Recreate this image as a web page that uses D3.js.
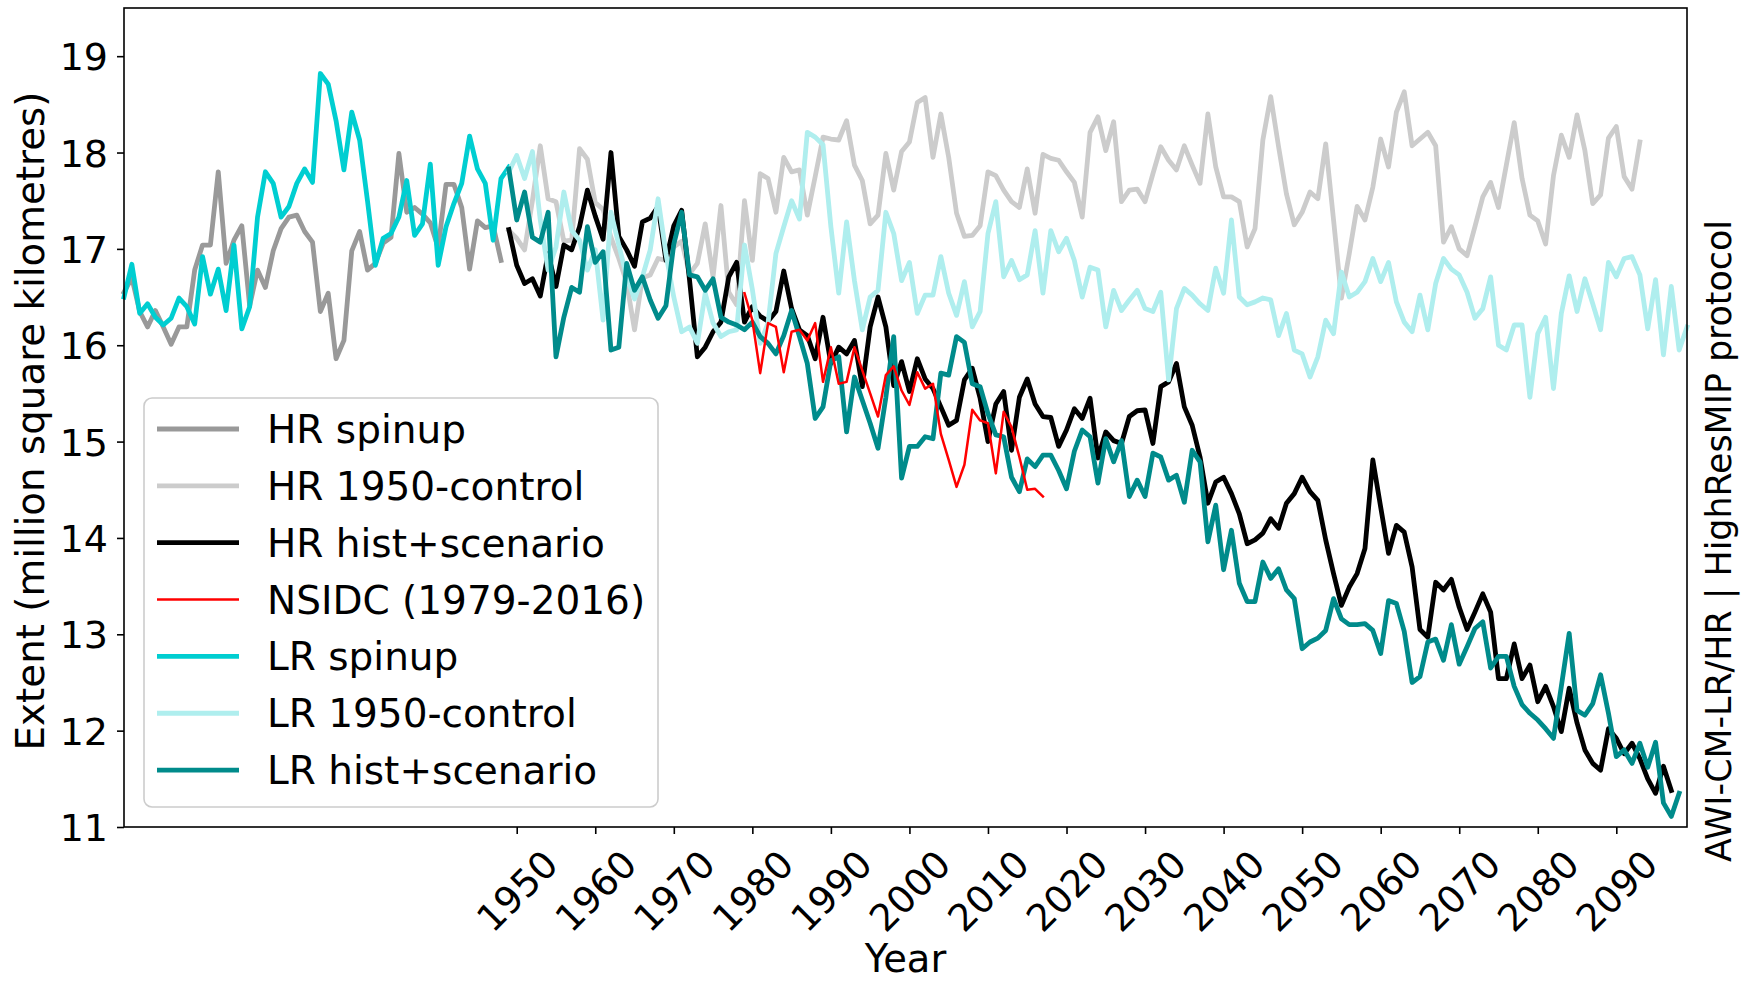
<!DOCTYPE html>
<html lang="en">
<head>
<meta charset="utf-8">
<title>Sea ice extent</title>
<style>
  body { margin: 0; background: #fff; }
  svg text { font-family: "DejaVu Sans", sans-serif; fill: #000; }
  .line { fill: none; stroke-linejoin: round; stroke-linecap: square; }
  .axis path { display: none; }
  .axis line { stroke: #000; stroke-width: 1.6px; }
</style>
</head>
<body>
<svg id="chart" width="1748" height="982"></svg>
<script src="https://cdn.jsdelivr.net/npm/d3@7"></script>
<script>

// first year of each run
var spinupStart = 1900,
    runStart = 1949,
    nsidcStart = 1979;

var hrSpinup = [16.55, 16.70, 16.35, 16.19, 16.36, 16.19, 16.01, 16.19, 16.19, 16.78,
  17.04, 17.04, 17.80, 16.85, 17.09, 17.24, 16.41, 16.78, 16.60, 16.98,
  17.21, 17.33, 17.35, 17.18, 17.07, 16.35, 16.54, 15.86, 16.05, 16.98,
  17.18, 16.78, 16.85, 17.06, 17.12, 17.99, 17.38, 17.43, 17.36, 17.27,
  17.01, 17.67, 17.67, 17.43, 16.79, 17.29, 17.22, 17.24, 16.88];

var lrSpinup = [16.50, 16.84, 16.33, 16.43, 16.29, 16.21, 16.28, 16.49, 16.40, 16.22,
  16.92, 16.53, 16.79, 16.36, 17.04, 16.17, 16.40, 17.33, 17.80, 17.68,
  17.33, 17.44, 17.68, 17.83, 17.69, 18.82, 18.71, 18.33, 17.82, 18.42,
  18.13, 17.50, 16.83, 17.11, 17.16, 17.33, 17.71, 17.14, 17.26, 17.88,
  16.83, 17.23, 17.47, 17.68, 18.17, 17.83, 17.68, 17.09, 17.73, 17.85];

var hrControl = [17.19, 17.11, 16.99, 17.50, 18.07, 17.52, 17.49, 17.08, 17.09, 18.04,
  17.93, 17.48, 17.41, 17.12, 16.90, 16.65, 16.16, 16.70, 16.73, 16.90,
  16.88, 17.02, 17.08, 16.74, 16.85, 17.26, 16.71, 17.45, 16.55, 16.42,
  17.50, 16.88, 17.78, 17.73, 17.38, 17.95, 17.80, 17.82, 17.35, 17.75,
  18.16, 18.14, 18.13, 18.33, 17.87, 17.71, 17.26, 17.35, 17.99, 17.61,
  18.01, 18.11, 18.52, 18.57, 17.95, 18.40, 17.95, 17.37, 17.13, 17.14,
  17.24, 17.80, 17.76, 17.61, 17.49, 17.43, 17.83, 17.37, 17.98, 17.94,
  17.92, 17.80, 17.69, 17.33, 18.21, 18.37, 18.02, 18.32, 17.49, 17.61,
  17.62, 17.49, 17.78, 18.06, 17.92, 17.82, 18.07, 17.87, 17.68, 18.40,
  17.85, 17.54, 17.54, 17.49, 17.02, 17.21, 18.13, 18.58, 18.06, 17.57,
  17.25, 17.38, 17.59, 17.52, 18.09, 17.30, 16.49, 16.95, 17.44, 17.30,
  17.64, 18.14, 17.85, 18.42, 18.63, 18.07, 18.14, 18.21, 18.07, 17.07,
  17.23, 17.00, 16.93, 17.23, 17.54, 17.69, 17.43, 17.87, 18.31, 17.73,
  17.35, 17.29, 17.05, 17.76, 18.18, 17.95, 18.39, 18.02, 17.47, 17.56,
  18.15, 18.27, 17.75, 17.62, 18.11];

var hrHist = [17.20, 16.83, 16.64, 16.69, 16.51, 16.95, 16.61, 17.04, 16.99, 17.23,
  17.61, 17.34, 17.10, 18.00, 17.13, 16.99, 16.82, 17.28, 17.32, 17.44,
  16.88, 17.24, 17.40, 16.68, 15.88, 15.98, 16.14, 16.24, 16.71, 16.86,
  16.24, 16.40, 16.30, 16.25, 16.35, 16.77, 16.38, 16.16, 16.10, 15.86,
  16.29, 15.81, 15.98, 15.91, 16.05, 15.57, 16.19, 16.50, 16.19, 15.58,
  15.83, 15.52, 15.86, 15.65, 15.55, 15.36, 15.17, 15.22, 15.64, 15.76,
  15.45, 15.00, 15.39, 15.52, 14.91, 15.46, 15.65, 15.39, 15.26, 15.25,
  14.95, 15.12, 15.34, 15.24, 15.45, 14.83, 15.10, 15.01, 14.98, 15.26,
  15.32, 15.33, 14.98, 15.57, 15.62, 15.81, 15.36, 15.17, 14.84, 14.36,
  14.58, 14.63, 14.46, 14.25, 13.94, 13.98, 14.05, 14.20, 14.10, 14.36,
  14.46, 14.63, 14.48, 14.39, 13.98, 13.63, 13.30, 13.49, 13.63, 13.89,
  14.81, 14.32, 13.84, 14.13, 14.06, 13.70, 13.05, 12.97, 13.54, 13.46,
  13.57, 13.28, 13.05, 13.23, 13.42, 13.23, 12.54, 12.54, 12.90, 12.54,
  12.68, 12.30, 12.46, 12.25, 11.99, 12.44, 12.08, 11.80, 11.66, 11.59,
  12.02, 11.92, 11.76, 11.87, 11.71, 11.50, 11.35, 11.63, 11.38];

var nsidc = [16.54, 16.26, 15.71, 16.23, 16.19, 15.72, 16.14, 16.16, 16.05, 16.23,
  15.62, 15.98, 15.60, 15.62, 15.98, 15.74, 15.50, 15.26, 15.69, 15.78,
  15.53, 15.38, 15.72, 15.55, 15.60, 15.08, 14.81, 14.53, 14.76, 15.33,
  15.22, 15.19, 14.67, 15.31, 15.15, 14.84, 14.50, 14.51, 14.43];

var lrControl = [17.80, 17.97, 17.73, 18.01, 17.30, 16.78, 17.02, 17.59, 17.19, 17.09,
  16.78, 16.99, 16.26, 17.38, 17.04, 16.71, 16.48, 16.71, 16.99, 17.52,
  16.95, 16.50, 16.14, 16.19, 16.02, 16.54, 16.23, 16.09, 16.14, 16.16,
  17.04, 16.58, 16.02, 16.23, 16.95, 17.23, 17.50, 17.31, 18.21, 18.16,
  18.08, 17.23, 16.54, 17.28, 16.67, 16.16, 16.50, 16.57, 17.38, 17.16,
  16.67, 16.86, 16.33, 16.52, 16.52, 16.92, 16.54, 16.31, 16.66, 16.19,
  16.35, 17.16, 17.49, 16.71, 16.88, 16.68, 16.73, 17.19, 16.54, 17.19,
  16.97, 17.11, 16.88, 16.50, 16.81, 16.78, 16.19, 16.57, 16.36, 16.47,
  16.57, 16.38, 16.35, 16.55, 15.64, 16.38, 16.59, 16.52, 16.43, 16.36,
  16.80, 16.54, 17.30, 16.50, 16.42, 16.45, 16.49, 16.47, 16.10, 16.33,
  15.95, 15.91, 15.67, 15.88, 16.26, 16.12, 16.76, 16.50, 16.55, 16.66,
  16.90, 16.66, 16.86, 16.45, 16.24, 16.14, 16.52, 16.16, 16.64, 16.90,
  16.79, 16.73, 16.55, 16.28, 16.38, 16.71, 16.00, 15.95, 16.21, 16.21,
  15.46, 16.12, 16.29, 15.55, 16.33, 16.72, 16.35, 16.69, 16.43, 16.16,
  16.86, 16.71, 16.90, 16.92, 16.73, 16.17, 16.68, 15.90, 16.61, 15.95,
  16.19];

var lrHist = [17.83, 17.30, 17.59, 17.12, 17.07, 17.38, 15.88, 16.29, 16.60, 16.55,
  17.23, 16.86, 16.97, 15.95, 15.98, 16.85, 16.57, 16.71, 16.47, 16.28,
  16.41, 17.05, 17.38, 16.73, 16.71, 16.57, 16.69, 16.29, 16.24, 16.21,
  16.16, 16.24, 16.09, 16.02, 15.91, 16.10, 16.36, 16.09, 15.81, 15.24,
  15.36, 15.84, 15.88, 15.10, 15.67, 15.43, 15.19, 14.93, 15.46, 16.09,
  14.62, 14.95, 14.95, 15.05, 15.03, 15.71, 15.69, 16.09, 16.03, 15.60,
  15.57, 15.29, 15.07, 15.05, 14.63, 14.48, 14.82, 14.74, 14.86, 14.86,
  14.70, 14.51, 14.90, 15.12, 15.05, 14.57, 15.03, 14.79, 15.01, 14.43,
  14.60, 14.43, 14.88, 14.84, 14.60, 14.65, 14.37, 14.91, 14.79, 13.96,
  14.34, 13.67, 14.08, 13.53, 13.34, 13.34, 13.75, 13.58, 13.68, 13.46,
  13.37, 12.85, 12.92, 12.96, 13.04, 13.37, 13.16, 13.10, 13.10, 13.11,
  13.04, 12.80, 13.35, 13.32, 13.03, 12.50, 12.56, 12.92, 12.95, 12.73,
  13.10, 12.69, 12.87, 13.06, 13.13, 12.65, 12.77, 12.77, 12.46, 12.27,
  12.18, 12.11, 12.02, 11.92, 12.46, 13.01, 12.21, 12.16, 12.28, 12.58,
  12.18, 11.73, 11.80, 11.66, 11.87, 11.62, 11.88, 11.25, 11.11, 11.35];

var xTicks = [1950, 1960, 1970, 1980, 1990, 2000, 2010, 2020, 2030, 2040, 2050, 2060, 2070, 2080, 2090];
var yTicks = [11, 12, 13, 14, 15, 16, 17, 18, 19];

// series in legend order; drawOrder puts the red obs line on top
var series = [
  {name: "HR spinup",          values: hrSpinup,  start: spinupStart, color: "#999999", width: 4.8, drawOrder: 0},
  {name: "HR 1950-control",    values: hrControl, start: runStart,    color: "#cccccc", width: 4.8, drawOrder: 1},
  {name: "HR hist+scenario",   values: hrHist,    start: runStart,    color: "#000000", width: 4.8, drawOrder: 2},
  {name: "NSIDC (1979-2016)",  values: nsidc,     start: nsidcStart,  color: "#ff0000", width: 2.5, drawOrder: 6},
  {name: "LR spinup",          values: lrSpinup,  start: spinupStart, color: "#00ced1", width: 4.8, drawOrder: 3},
  {name: "LR 1950-control",    values: lrControl, start: runStart,    color: "#afeeee", width: 4.8, drawOrder: 4},
  {name: "LR hist+scenario",   values: lrHist,    start: runStart,    color: "#008b8b", width: 4.8, drawOrder: 5}
];

var svg = d3.select("#chart"),
    margin = {top: 8, right: 61, bottom: 155, left: 124},
    width = +svg.attr("width") - margin.left - margin.right,
    height = +svg.attr("height") - margin.top - margin.bottom;

var xScale = d3.scaleLinear().domain([1900, 2099]).range([margin.left, margin.left + width]),
    yScale = d3.scaleLinear().domain([11, 19.5]).range([margin.top + height, margin.top]);

var line = d3.line()
    .x(function(d) { return xScale(d.year); })
    .y(function(d) { return yScale(d.value); });

function toPoints(s) {
  return s.values.map(function(v, i) { return {year: s.start + i, value: v}; });
}

// lines
svg.append("g")
  .selectAll("path")
  .data(series.slice().sort(function(a, b) { return a.drawOrder - b.drawOrder; }))
  .enter().append("path")
    .attr("class", "line")
    .attr("d", function(d) { return line(toPoints(d)); })
    .style("stroke", function(d) { return d.color; })
    .style("stroke-width", function(d) { return d.width; });

// x axis, labels turned 45 degrees
var xAxis = svg.append("g")
    .attr("class", "axis axis--x")
    .attr("transform", "translate(0," + (margin.top + height) + ")")
    .call(d3.axisBottom(xScale).tickValues(xTicks).tickSize(7).tickFormat(d3.format("d")));

xAxis.selectAll("text")
    .attr("y", null)
    .attr("dy", "0.35em")
    .attr("text-anchor", "middle")
    .attr("transform", "translate(0,64) rotate(-45)")
    .style("font-size", "37.5px");

// y axis
svg.append("g")
    .attr("class", "axis axis--y")
    .attr("transform", "translate(" + margin.left + ",0)")
    .call(d3.axisLeft(yScale).tickValues(yTicks).tickSize(7).tickPadding(9))
  .selectAll("text")
    .attr("dy", "0.36em")
    .style("font-size", "38px");

// frame
svg.append("rect")
    .attr("x", margin.left)
    .attr("y", margin.top)
    .attr("width", width)
    .attr("height", height)
    .style("fill", "none")
    .style("stroke", "#000")
    .style("stroke-width", 1.6);

// axis titles
svg.append("text")
    .attr("transform", "translate(44,421) rotate(-90)")
    .attr("text-anchor", "middle")
    .style("font-size", "38.8px")
    .text("Extent (million square kilometres)");

svg.append("text")
    .attr("x", margin.left + width / 2)
    .attr("y", 972)
    .attr("text-anchor", "middle")
    .style("font-size", "38.5px")
    .text("Year");

svg.append("text")
    .attr("transform", "translate(1731,862) rotate(-90)")
    .attr("text-anchor", "start")
    .style("font-size", "34.8px")
    .text("AWI-CM-LR/HR | HighResMIP protocol");

// legend
var legend = svg.append("g").attr("class", "legend");

legend.append("rect")
    .attr("x", 144)
    .attr("y", 398)
    .attr("width", 514)
    .attr("height", 409)
    .attr("rx", 8)
    .style("fill", "#fff")
    .style("fill-opacity", 0.8)
    .style("stroke", "#cccccc")
    .style("stroke-width", 1.6);

var rowHeight = 56.85;

var item = legend.selectAll(".item")
  .data(series)
  .enter().append("g")
    .attr("class", "item")
    .attr("transform", function(d, i) { return "translate(0," + (429 + i * rowHeight) + ")"; });

item.append("line")
    .attr("x1", 157)
    .attr("x2", 239)
    .style("stroke", function(d) { return d.color; })
    .style("stroke-width", function(d) { return d.width; });

item.append("text")
    .attr("x", 267)
    .attr("dy", "0.36em")
    .style("font-size", "39px")
    .text(function(d) { return d.name; });

</script>
</body>
</html>
